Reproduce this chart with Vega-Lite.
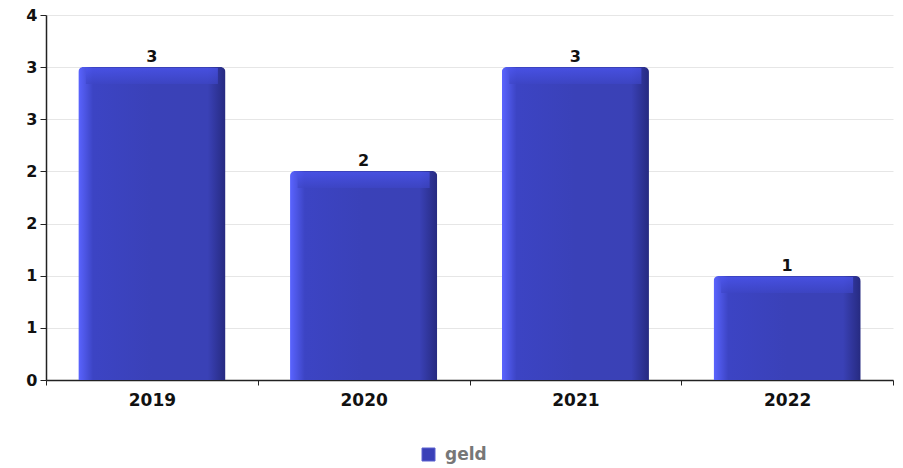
{
  "$schema": "https://vega.github.io/schema/vega-lite/v6.json",
  "width": 847,
  "height": 365,
  "autosize": {"type": "none"},
  "padding": {"left": 46, "top": 15, "right": 10, "bottom": 88},
  "background": "white",
  "config": {
    "view": {"stroke": null},
    "font": "DejaVu Sans",
    "axis": {"labelFont": "DejaVu Sans", "labelFontWeight": "bold", "labelColor": "#111", "domainColor": "#222", "tickColor": "#222", "title": null}
  },
  "data": {
    "values": [
      {"year": "2019", "value": 3.43, "series": "geld"},
      {"year": "2020", "value": 2.29, "series": "geld"},
      {"year": "2021", "value": 3.43, "series": "geld"},
      {"year": "2022", "value": 1.14, "series": "geld"}
    ]
  },
  "encoding": {
    "x": {
      "field": "year", "type": "nominal",
      "scale": {"paddingInner": 0, "paddingOuter": 0},
      "axis": {"labelAngle": 0, "labelFontSize": 17, "labelPadding": 7, "tickBand": "extent", "tickSize": 5, "domainWidth": 1.5}
    },
    "y": {
      "field": "value", "type": "quantitative",
      "scale": {"domain": [0, 4], "nice": false},
      "axis": {"values": [0, 0.5714, 1.1429, 1.7143, 2.2857, 2.8571, 3.4286, 4], "format": ".0f", "labelFontSize": 16, "gridColor": "#e6e6e6", "tickSize": 6, "labelPadding": 3, "domainWidth": 1.5}
    }
  },
  "layer": [
    {
      "mark": {
        "type": "bar",
        "width": {"band": 0.695},
        "cornerRadiusTopLeft": 5,
        "cornerRadiusTopRight": 5,
        "color": {
          "gradient": "linear", "x1": 0, "x2": 1, "y1": 0, "y2": 0,
          "stops": [
            {"offset": 0, "color": "#5a64ff"},
            {"offset": 0.1, "color": "#3c44c4"},
            {"offset": 0.5, "color": "#3a41b8"},
            {"offset": 0.88, "color": "#3a41b6"},
            {"offset": 1, "color": "#262a80"}
          ]
        }
      }
    },
    {
      "mark": {
        "type": "tick",
        "thickness": 16,
        "size": 132,
        "yOffset": 9,
        "color": {
          "gradient": "linear", "x1": 0, "x2": 0, "y1": 0, "y2": 1,
          "stops": [
            {"offset": 0, "color": "#4c56f0"},
            {"offset": 1, "color": "#3d45c6"}
          ]
        }
      }
    },
    {
      "mark": {"type": "point", "opacity": 0, "filled": true},
      "encoding": {
        "color": {
          "field": "series", "type": "nominal",
          "scale": {"range": ["#3a40b8"]},
          "legend": {
            "orient": "none", "legendX": 374, "legendY": 431, "direction": "horizontal",
            "title": null, "symbolType": "square", "symbolOpacity": 1, "symbolSize": 169,
            "symbolFillColor": "#3a40b8", "symbolStrokeColor": "#5a60d0", "symbolStrokeWidth": 1,
            "labelFont": "DejaVu Sans", "labelFontWeight": "bold", "labelFontSize": 17, "labelColor": "#777", "labelOffset": 8
          }
        }
      }
    },
    {
      "mark": {"type": "text", "baseline": "bottom", "dy": -2, "font": "DejaVu Sans", "fontWeight": "bold", "fontSize": 16, "color": "#111"},
      "encoding": {"text": {"field": "value", "type": "quantitative", "format": ".0f"}}
    }
  ]
}
